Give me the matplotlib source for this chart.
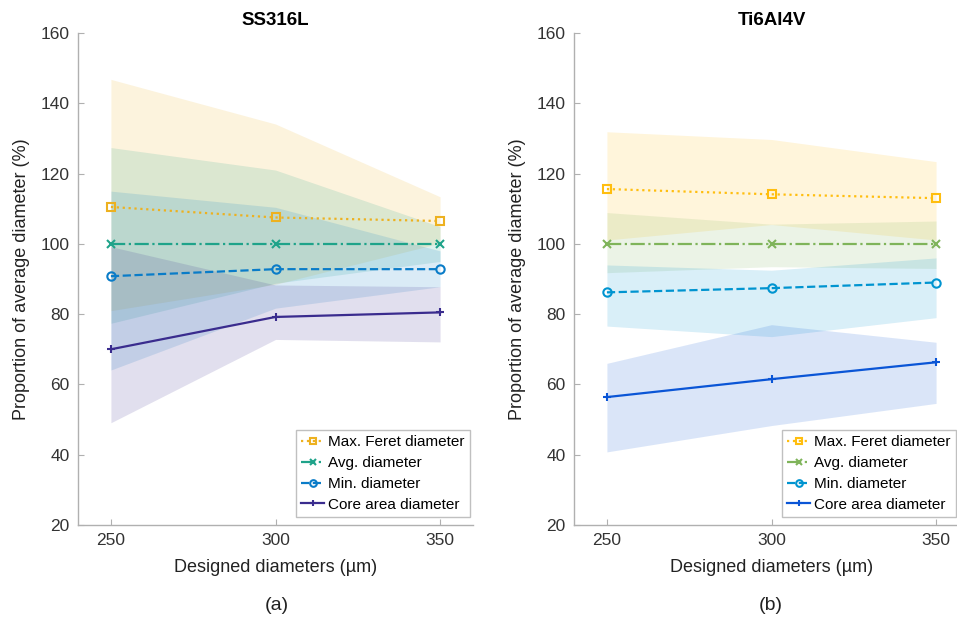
import matplotlib
matplotlib.use("Agg")
import matplotlib.pyplot as plt
import numpy as np

plt.rcParams['font.family'] = ['Liberation Sans', 'DejaVu Sans']

designed = [250, 300, 350]
yticks = [20, 40, 60, 80, 100, 120, 140, 160]
xticks = [250, 300, 350]
series_names = ["Max. Feret diameter", "Avg. diameter", "Min. diameter", "Core area diameter"]

# SS316L
ss_feret = [110.5, 107.5, 106.5]
ss_avg = [100.0, 100.0, 100.0]
ss_min = [90.8, 92.8, 92.8]
ss_core = [70.0, 79.2, 80.5]
ss_feret_hi = [146.8, 134.1, 113.4]
ss_feret_lo = [81.0, 88.5, 100.2]
ss_avg_hi = [127.4, 121.0, 104.9]
ss_avg_lo = [77.4, 88.8, 95.0]
ss_min_hi = [115.0, 110.4, 98.0]
ss_min_lo = [64.1, 81.7, 87.8]
ss_core_hi = [99.2, 88.3, 87.8]
ss_core_lo = [49.1, 72.8, 72.1]

# Ti6Al4V
ti_feret = [115.6, 114.1, 113.0]
ti_avg = [100.0, 100.0, 100.0]
ti_min = [86.2, 87.4, 89.0]
ti_core = [56.4, 61.5, 66.3]
ti_feret_hi = [131.9, 129.7, 123.4]
ti_feret_lo = [101.1, 105.5, 101.1]
ti_avg_hi = [108.9, 105.6, 106.5]
ti_avg_lo = [91.8, 93.5, 93.0]
ti_min_hi = [94.0, 92.5, 96.0]
ti_min_lo = [76.6, 73.6, 79.0]
ti_core_hi = [66.0, 77.0, 72.0]
ti_core_lo = [40.8, 48.3, 54.6]

ss_colors = ["#EDB120", "#1FA38A", "#0A7CC8", "#3A2C8E"]
ti_colors = ["#FFBE0F", "#7FB45A", "#0094D0", "#0A55D6"]
markers = ["s", "x", "o", "+"]
styles = [":", "-.", "--", "-"]

fig = plt.figure(figsize=(9.57, 6.17), dpi=100)
ax1 = fig.add_axes([78/957, 92/617, 395/957, 492/617])
ax2 = fig.add_axes([574/957, 92/617, 395/957, 492/617])

def draw(ax, means, his, los, colors, title, leg_x):
    for hi, lo, c in zip(his, los, colors):
        ax.fill_between(designed, lo, hi, color=c, alpha=0.15, linewidth=0)
    for m, c, mk, ls, name in zip(means, colors, markers, styles, series_names):
        ax.plot(designed, m, color=c, linestyle=ls, marker=mk, markersize=6,
                markerfacecolor='none', markeredgewidth=1.5, linewidth=1.6, label=name)
    ax.set_xlim(240, 360)
    ax.set_ylim(20, 160)
    ax.set_xticks(xticks)
    ax.set_yticks(yticks)
    for s in ["top", "right"]:
        ax.spines[s].set_visible(False)
    for s in ["left", "bottom"]:
        ax.spines[s].set_color("#b0b0b0")
        ax.spines[s].set_linewidth(1.0)
    ax.tick_params(direction="in", length=4, color="#b0b0b0", labelsize=12.5,
                   labelcolor="#333333", pad=6)
    ax.set_title(title, fontsize=13.5, fontweight="bold", pad=6)
    ax.set_xlabel("Designed diameters (µm)", fontsize=13, color="#222222", labelpad=8)
    ax.set_ylabel("Proportion of average diameter (%)", fontsize=13, color="#222222", labelpad=8)
    leg = ax.legend(loc="lower right", bbox_to_anchor=(leg_x, 0.016), fontsize=11,
                    handlelength=1.5, handletextpad=0.25, borderpad=0.35, labelspacing=0.45,
                    fancybox=False, framealpha=1, edgecolor="#c0c0c0", borderaxespad=0,
                    markerscale=0.8)
    leg.get_frame().set_linewidth(1.0)

draw(ax1, [ss_feret, ss_avg, ss_min, ss_core],
     [ss_feret_hi, ss_avg_hi, ss_min_hi, ss_core_hi],
     [ss_feret_lo, ss_avg_lo, ss_min_lo, ss_core_lo], ss_colors, "SS316L", 0.992)
draw(ax2, [ti_feret, ti_avg, ti_min, ti_core],
     [ti_feret_hi, ti_avg_hi, ti_min_hi, ti_core_hi],
     [ti_feret_lo, ti_avg_lo, ti_min_lo, ti_core_lo], ti_colors, "Ti6Al4V", (956 - 574) / 395)

fig.text(277/957, 1 - 605/617, "(a)", ha="center", va="center", fontsize=14, color="#222222")
fig.text(771/957, 1 - 605/617, "(b)", ha="center", va="center", fontsize=14, color="#222222")

fig.savefig("out.png", dpi=100)
